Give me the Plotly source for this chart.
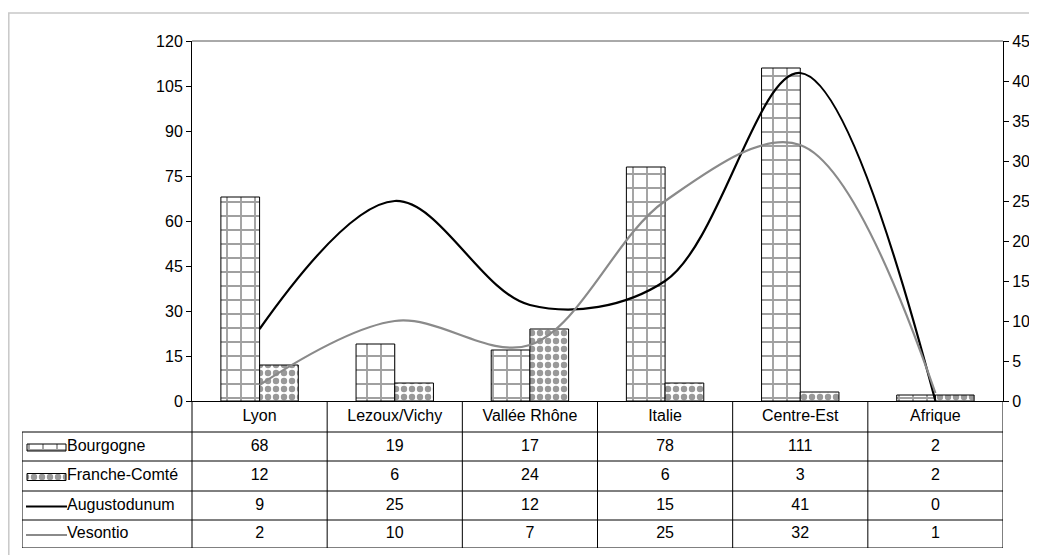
import plotly.graph_objects as go

# ---------------- data ----------------
categories = ["Lyon", "Lezoux/Vichy", "Vallée Rhône", "Italie", "Centre-Est", "Afrique"]
bourgogne = [68, 19, 17, 78, 111, 2]
franche_comte = [12, 6, 24, 6, 3, 2]
augustodunum = [9, 25, 12, 15, 41, 0]
vesontio = [2, 10, 7, 25, 32, 1]
series_names = ["Bourgogne", "Franche-Comté", "Augustodunum", "Vesontio"]
left_ticks = [0, 15, 30, 45, 60, 75, 90, 105, 120]
right_ticks = [0, 5, 10, 15, 20, 25, 30, 35, 40, 45]

# ---------------- layout geometry (pixels, page coordinates) ----------------
OFF = 8  # default page body margin
W, H = 1037 - OFF, 555 - OFF
TL, PL, PR, PT, PB, TB = [v - OFF for v in (22, 192, 1003, 41, 401, 548)]
pw, ph = PR - TL, TB - PT
ncat = len(categories)
catw = (PR - PL) / ncat
row_edges = [0, 31, 60, 90, 119, 147]          # offsets below the x axis
row_centers = [(row_edges[i] + row_edges[i + 1]) / 2 for i in range(len(row_edges) - 1)]


def xv(px):
    """page pixel -> table x coordinate"""
    return -0.5 + (px - OFF - PL) / catw


FONT = "Liberation Sans, Arial, sans-serif"
GRID_GRAY = "#a0a0a0"
CHECK_GRAY = "#999999"
LINE_GRAY = "#8a8a8a"

bour_marker = dict(color="white", line=dict(color="black", width=1),
                   pattern=dict(shape="+", fgcolor=GRID_GRAY, bgcolor="white",
                                size=14, solidity=0.25, fillmode="replace"))
fc_marker = dict(color="white", line=dict(color="black", width=1),
                 pattern=dict(shape=".", fgcolor=CHECK_GRAY, bgcolor="white",
                              size=8, solidity=0.5, fillmode="replace"))

fig = go.Figure()

# bars (left axis)
fig.add_bar(x=categories, y=bourgogne, name=series_names[0], marker=bour_marker,
            xaxis="x", yaxis="y", showlegend=False)
fig.add_bar(x=categories, y=franche_comte, name=series_names[1], marker=fc_marker,
            xaxis="x", yaxis="y", showlegend=False)

# lines (right axis)
fig.add_scatter(x=categories, y=augustodunum, name=series_names[2], mode="lines",
                line=dict(color="black", width=2.2, shape="spline", smoothing=1),
                xaxis="x", yaxis="y3", showlegend=False)
fig.add_scatter(x=categories, y=vesontio, name=series_names[3], mode="lines",
                line=dict(color=LINE_GRAY, width=2.2, shape="spline", smoothing=1),
                xaxis="x", yaxis="y3", showlegend=False)

# ---------------- data table ----------------
fig.add_scatter(x=list(range(ncat)), y=[row_centers[0]] * ncat, text=categories,
                mode="text", textposition="middle center",
                textfont=dict(family=FONT, size=16, color="black"),
                xaxis="x2", yaxis="y2", showlegend=False, hoverinfo="skip")
table_rows = [bourgogne, franche_comte, augustodunum, vesontio]
for r, vals in enumerate(table_rows):
    fig.add_scatter(x=list(range(ncat)), y=[row_centers[r + 1]] * ncat,
                    text=[str(v) for v in vals], mode="text",
                    textposition="middle center",
                    textfont=dict(family=FONT, size=16, color="black"),
                    xaxis="x2", yaxis="y2", showlegend=False, hoverinfo="skip")

# legend names in first column
fig.add_scatter(x=[xv(67)] * 4, y=row_centers[1:], text=series_names, mode="text",
                textposition="middle right",
                textfont=dict(family=FONT, size=16, color="black"),
                xaxis="x2", yaxis="y2", showlegend=False, hoverinfo="skip")

# legend keys
key_l, key_r = xv(27), xv(66)
for r, mk in [(1, bour_marker), (2, fc_marker)]:
    fig.add_bar(y=[row_centers[r] + 1], x=[key_r - key_l], base=[key_l], orientation="h",
                width=7, offset=-3.5, marker=mk, xaxis="x2", yaxis="y2",
                showlegend=False, hoverinfo="skip")
for r, col in [(3, "black"), (4, LINE_GRAY)]:
    fig.add_scatter(x=[xv(26), xv(67)], y=[row_centers[r] + 1] * 2, mode="lines",
                    line=dict(color=col, width=2.2), xaxis="x2", yaxis="y2",
                    showlegend=False, hoverinfo="skip")

shapes = []
x_left = -0.5 + (TL - PL) / catw
for e in row_edges[1:]:
    shapes.append(dict(type="line", xref="x2", yref="y2", x0=x_left, x1=ncat - 0.5,
                       y0=e, y1=e, line=dict(color="black", width=1)))
for i in range(ncat + 1):
    shapes.append(dict(type="line", xref="x2", yref="y2", x0=i - 0.5, x1=i - 0.5,
                       y0=0, y1=row_edges[-1], line=dict(color="black", width=1)))
shapes.append(dict(type="line", xref="x2", yref="y2", x0=x_left, x1=x_left,
                   y0=row_edges[1], y1=row_edges[-1], line=dict(color="black", width=1)))
# top border of plot area
shapes.append(dict(type="line", xref="x domain", yref="y domain", x0=0, x1=1, y0=1, y1=1,
                   line=dict(color="#555555", width=1)))
# outer chart frame
shapes.append(dict(type="rect", xref="paper", yref="paper",
                   x0=(0.8 - TL) / pw, x1=(W + 10 - TL) / pw,
                   y0=(TB - (H + 10)) / ph, y1=(TB - (13 - OFF)) / ph,
                   line=dict(color="#c8c8c8", width=1.5), layer="below"))

main_ydom = [(TB - PB) / ph, 1]
axis_font = dict(family=FONT, size=16, color="black")

fig.update_layout(
    width=W, height=H,
    margin=dict(l=TL, r=W - PR, t=PT, b=H - TB, autoexpand=False),
    paper_bgcolor="white", plot_bgcolor="white",
    font=dict(family=FONT, size=16, color="black"),
    barmode="group", bargap=0.4275, bargroupgap=0,
    showlegend=False,
    xaxis=dict(domain=[(PL - TL) / pw, 1], anchor="y", type="category",
               categoryorder="array", categoryarray=categories, range=[-0.5, ncat - 0.5],
               showticklabels=False, ticks="", showline=True, linecolor="black",
               linewidth=1, showgrid=False, zeroline=False),
    yaxis=dict(domain=main_ydom, anchor="x", range=[0, 120], tickvals=left_ticks,
               ticks="outside", ticklen=5, tickcolor="black", showline=True,
               linecolor="black", linewidth=1, showgrid=False, zeroline=False,
               tickfont=axis_font),
    yaxis3=dict(overlaying="y", anchor="x", side="right", range=[0, 45],
                tickvals=right_ticks, ticks="outside", ticklen=5, tickcolor="black",
                showline=True, linecolor="black", linewidth=1, showgrid=False,
                zeroline=False, tickfont=axis_font),
    yaxis4=dict(overlaying="y", anchor="x", side="left", range=[0, 120],
                tickvals=left_ticks, ticks="inside", ticklen=5, tickcolor="black",
                showticklabels=False, showline=False, showgrid=False, zeroline=False),
    yaxis5=dict(overlaying="y", anchor="x", side="right", range=[0, 45],
                tickvals=right_ticks, ticks="inside", ticklen=5, tickcolor="black",
                showticklabels=False, showline=False, showgrid=False, zeroline=False),
    xaxis2=dict(domain=[0, 1], anchor="y2", range=[x_left, ncat - 0.5], visible=False),
    yaxis2=dict(domain=[0, (TB - PB) / ph], anchor="x2",
                range=[row_edges[-1], 0], visible=False),
    shapes=shapes,
)

fig.write_html("out.html")
